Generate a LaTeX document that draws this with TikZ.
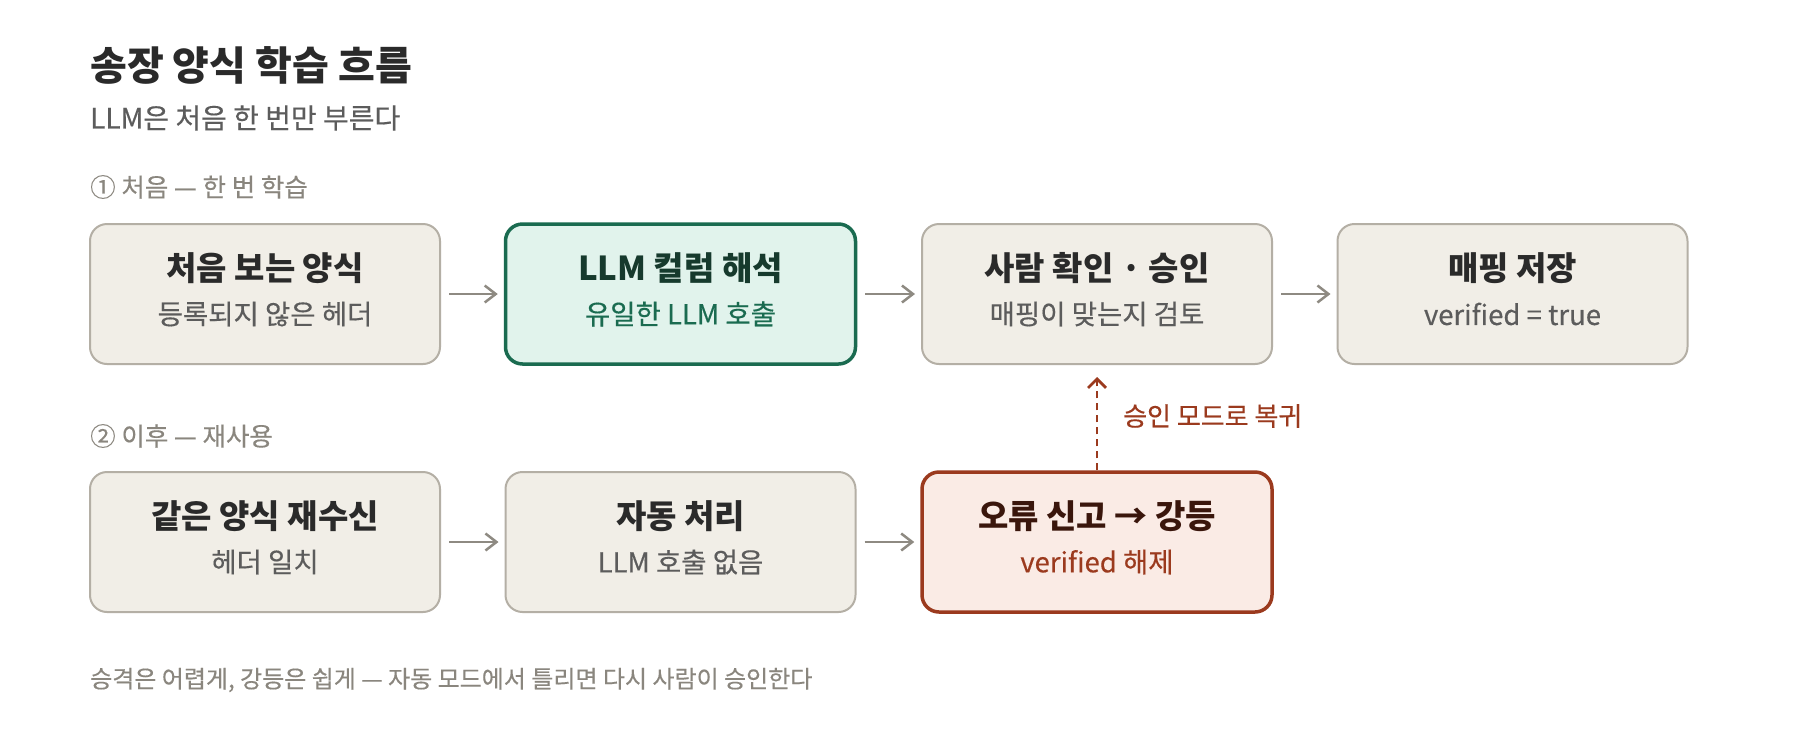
\documentclass[tikz,border=0pt]{standalone}
\usepackage{fontspec}
\setmainfont{Noto Sans CJK KR}
\newfontfamily\medfont[FakeBold=0.35]{Noto Sans CJK KR}
\usetikzlibrary{arrows.meta}
\definecolor{boxfill}{HTML}{F1EEE7}
\definecolor{boxline}{HTML}{B4AFA5}
\definecolor{greenfill}{HTML}{E1F3EC}
\definecolor{greenline}{HTML}{1A6B50}
\definecolor{greentitle}{HTML}{163A2D}
\definecolor{redfill}{HTML}{FAEBE5}
\definecolor{redline}{HTML}{9B3A1E}
\definecolor{redtitle}{HTML}{3A160C}
\definecolor{inktitle}{HTML}{2A2A2A}
\definecolor{inksub}{HTML}{5C5C5C}
\definecolor{inkmuted}{HTML}{8A867E}
\definecolor{arrowgray}{HTML}{8E8A82}
\tikzset{
  card/.style={draw=boxline, fill=boxfill, line width=2pt, rounded corners=17pt,
    minimum width=350pt, minimum height=140pt, inner sep=0pt},
  greencard/.style={card, draw=greenline, fill=greenfill, line width=3.5pt},
  redcard/.style={card, draw=redline, fill=redfill, line width=3.5pt},
  cardtitle/.style={font=\fontsize{33}{38}\selectfont\bfseries, text=inktitle, inner sep=0pt},
  cardsub/.style={font=\medfont\fontsize{27.5}{32}\selectfont, text=inksub, inner sep=0pt},
  flow/.style={draw=arrowgray, line width=2.5pt, -{Straight Barb[length=11pt,width=17pt,line width=2.5pt]}},
  back/.style={draw=redline, line width=2.7pt, dash pattern=on 7pt off 5pt,
    -{Straight Barb[length=9pt,width=18pt,line width=2.7pt]}},
  muted/.style={font=\medfont\fontsize{24.5}{29}\selectfont, text=inkmuted, inner sep=0pt, anchor=west},
}
\begin{document}
\begin{tikzpicture}[x=1pt,y=-1pt]
\useasboundingbox[fill=white] (0,0) rectangle (1800,740);
% header
\node[anchor=west, inner sep=0pt, font=\fontsize{40}{46}\selectfont\bfseries, text=inktitle] (title) at (90,65) {송장 양식 학습 흐름};
\node[anchor=west, inner sep=0pt, font=\medfont\fontsize{28}{33}\selectfont, text=inksub] (subtitle) at (90,118) {LLM은 처음 한 번만 부른다};
\node[muted, font=\medfont\fontsize{25.5}{30}\selectfont] (sec1) at (90,187) {① 처음 — 한 번 학습};
\node[muted, font=\medfont\fontsize{25.5}{30}\selectfont] (sec2) at (90,436) {② 이후 — 재사용};
% row 1
\node[card] (a1) at (265,294) {};
\node[greencard] (a2) at (680.5,294) {};
\node[card] (a3) at (1097,294) {};
\node[card] (a4) at (1512.5,294) {};
% row 2
\node[card] (b1) at (265,542) {};
\node[card] (b2) at (680.5,542) {};
\node[redcard] (b3) at (1097,542) {};
% texts row1
\node[cardtitle] (a1t) at ([yshift=26pt]a1.center) {처음 보는 양식};
\node[cardsub] (a1s) at ([yshift=-20pt]a1.center) {등록되지 않은 헤더};
\node[cardtitle, text=greentitle] (a2t) at ([yshift=26pt]a2.center) {LLM 컬럼 해석};
\node[cardsub, text=greenline] (a2s) at ([yshift=-20pt]a2.center) {유일한 LLM 호출};
\node[cardtitle] (a3t) at ([yshift=26pt]a3.center) {사람 확인 · 승인};
\node[cardsub] (a3s) at ([yshift=-20pt]a3.center) {매핑이 맞는지 검토};
\node[cardtitle] (a4t) at ([yshift=26pt]a4.center) {매핑 저장};
\node[cardsub] (a4s) at ([yshift=-20pt]a4.center) {verified = true};
% texts row2
\node[cardtitle] (b1t) at ([yshift=26pt]b1.center) {같은 양식 재수신};
\node[cardsub] (b1s) at ([yshift=-20pt]b1.center) {헤더 일치};
\node[cardtitle] (b2t) at ([yshift=26pt]b2.center) {자동 처리};
\node[cardsub] (b2s) at ([yshift=-20pt]b2.center) {LLM 호출 없음};
\node[cardtitle, text=redtitle] (b3t) at ([yshift=26pt]b3.center) {오류 신고 → 강등};
\node[cardsub, text=redline] (b3s) at ([yshift=-20pt]b3.center) {verified 해제};
% arrows
\draw[flow] ([xshift=8pt]a1.east) -- ([xshift=-6pt]a2.west);
\draw[flow] ([xshift=8pt]a2.east) -- ([xshift=-6pt]a3.west);
\draw[flow] ([xshift=8pt]a3.east) -- ([xshift=-6pt]a4.west);
\draw[flow] ([xshift=8pt]b1.east) -- ([xshift=-6pt]b2.west);
\draw[flow] ([xshift=8pt]b2.east) -- ([xshift=-6pt]b3.west);
\coordinate (backtip) at ([yshift=-12pt]a3.south);
\draw[back] (b3.north) -- (backtip);
\node[anchor=west, inner sep=0pt, font=\medfont\fontsize{26}{31}\selectfont, text=redline] (backlabel) at (1123,416) {승인 모드로 복귀};
% footer
\node[muted, font=\medfont\fontsize{24}{29}\selectfont] (footer) at (90,680) {승격은 어렵게, 강등은 쉽게 — 자동 모드에서 틀리면 다시 사람이 승인한다};
\end{tikzpicture}
\end{document}
